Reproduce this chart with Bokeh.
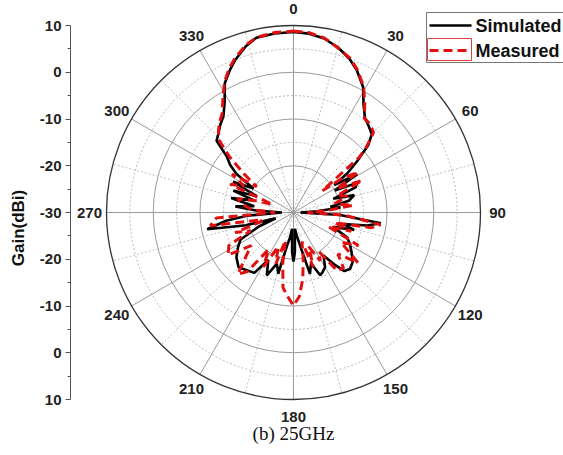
import numpy as np
from bokeh.plotting import figure
from bokeh.models import Range1d, FixedTicker
from bokeh.core.properties import value
from bokeh.embed import file_html
from bokeh.resources import INLINE

# ---------------- data ----------------
sim_theta = [0, 5, 10, 15, 20, 24, 29, 33, 37, 41, 45, 48, 51, 54, 56, 59, 62, 65, 68, 71,
             74, 78, 81, 84, 87, 90, 93, 97, 100, 103, 106, 110, 115, 120, 125, 130, 135, 139,
             142, 145, 150, 154, 157, 161, 165, 168, 172, 175, 178, 180, 182, 185, 188, 191,
             194, 198, 203, 208, 213, 220, 225, 232, 238, 243, 248, 252, 255, 259, 263, 266,
             270, 273, 276, 279, 283, 287, 290, 294, 297, 301, 304, 307, 310, 313, 316, 320,
             324, 328, 332, 336, 339, 344, 348, 354, 360]
sim_gain = [8.6, 8.4, 7.8, 6.6, 5.0, 3.3, 0.7, -2.5, -4.6, -5.5, -6.3, -8.5, -12.4, -15.8, -19.5,
            -14.1, -20.0, -15.0, -15.7, -21.0, -16.5, -17.9, -22.0, -19.9, -25.0, -28.5, -20.0,
            -11.2, -14.0, -19.0, -16.5, -21.0, -17.3, -16.0, -14.8, -13.5, -12.9, -13.4, -16.0,
            -18.8, -16.5, -15.8, -15.4, -18.5, -16.4, -22.0, -25.0, -26.5, -21.5, -19.5, -21.5,
            -26.5, -24.5, -22.8, -16.5, -18.5, -15.4, -18.5, -14.6, -14.0, -13.4, -14.5, -16.0,
            -17.3, -22.0, -26.0, -19.5, -11.2, -15.5, -20.0, -27.5, -22.0, -17.5, -21.5, -16.3,
            -21.0, -16.3, -21.4, -15.5, -20.0, -15.3, -13.0, -11.4, -7.5, -6.8, -5.6, -4.5,
            -2.2, 1.3, 3.4, 4.9, 7.0, 8.2, 8.5, 8.6]

meas_theta = [0, 5, 10, 15, 20, 24, 29, 33, 37, 41, 45, 48, 50, 53, 55, 58, 61, 65, 69, 73,
              78, 83, 87, 90, 93, 98, 101, 104, 108, 112, 117, 122, 128, 133, 138, 143, 147,
              151, 156, 160, 164, 168, 172, 176, 180, 184, 188, 192, 196, 199, 204, 209, 214,
              218, 222, 227, 232, 237, 243, 247, 251, 254, 257, 261, 266, 270, 274, 279, 284,
              288, 291, 294, 298, 302, 305, 308, 311, 314, 317, 320, 324, 328, 332, 336, 339,
              344, 348, 354, 360]
meas_gain = [8.8, 8.6, 7.9, 6.5, 5.2, 3.5, 0.9, -2.0, -4.8, -5.0, -5.8, -9.0, -11.7, -22.3,
             -17.2, -13.7, -19.5, -13.8, -20.0, -18.0, -21.0, -17.2, -23.0, -27.0, -19.0, -11.2,
             -13.0, -21.0, -17.0, -22.0, -14.4, -18.0, -12.5, -17.0, -14.0, -14.4, -20.0, -18.2,
             -22.0, -17.5, -23.5, -20.0, -15.7, -12.0, -10.1, -12.0, -13.8, -19.0, -23.8, -18.4,
             -22.0, -16.7, -20.5, -14.0, -12.2, -16.0, -18.5, -13.3, -14.5, -20.0, -16.8, -22.5,
             -23.2, -12.0, -13.5, -26.0, -21.0, -19.0, -17.7, -22.0, -25.2, -15.2, -18.0, -14.5,
             -20.4, -16.5, -11.9, -8.0, -6.5, -5.2, -4.0, -1.5, 1.5, 3.8, 5.2, 7.2, 8.3, 8.7, 8.8]

r_min, r_max = -30, 10
ring_gains = [-25, -20, -15, -10, -5, 0, 5, 10]
angle_ticks = [0, 30, 60, 90, 120, 150, 180, 210, 240, 270, 300, 330]
minor_angles = [15, 45, 75, 105, 135, 165, 195, 225, 255, 285, 315, 345]
gain_tick_values = [40, 30, 20, 10, 0, -10, -20, -30, -40]
gain_tick_labels = ["10", "0", "-10", "-20", "-30", "-20", "-10", "0", "10"]
series_names = ["Simulated", "Measured"]
caption = "(b) 25GHz"

# ---------------- layout ----------------
PX = 4.675            # screen px per dB
CXP, CYP = 293, 212   # screen position of the polar centre
W, H = 563, 455
LEFT = 70

def gx(px):
    return (px - CXP) / PX

def gy(py):
    return (CYP - py) / PX

def polar_xy(theta, gain):
    t = np.radians(np.asarray(theta, dtype=float))
    r = np.asarray(gain, dtype=float) - r_min
    return r * np.sin(t), r * np.cos(t)

p = figure(width=W, height=H, output_backend="svg", toolbar_location=None,
           x_range=Range1d(gx(LEFT), gx(W)), y_range=Range1d(gy(H), gy(0)),
           x_axis_location=None, y_axis_location="left",
           min_border_left=LEFT, min_border_right=0, min_border_top=0, min_border_bottom=0,
           background_fill_color="white", border_fill_color="white")
p.outline_line_color = None
p.grid.visible = False

R = r_max - r_min

# grid rings
solid_r = [g - r_min for g in ring_gains if g % 10 == 0 and g != r_max]
dot_r = [g - r_min for g in ring_gains if g % 10 != 0]
p.circle(x=[0] * len(dot_r), y=[0] * len(dot_r), radius=dot_r, fill_color=None,
         line_color="#b8b8b8", line_width=1, line_dash="2 2")
p.circle(x=[0] * len(solid_r), y=[0] * len(solid_r), radius=solid_r, fill_color=None,
         line_color="#9a9a9a", line_width=1)

# radial lines
mx, my = polar_xy(minor_angles, [r_max] * len(minor_angles))
p.segment(x0=0, y0=0, x1=mx, y1=my, line_color="#c0c0c0", line_width=1, line_dash="2 2")
ax_, ay_ = polar_xy(angle_ticks, [r_max] * len(angle_ticks))
p.segment(x0=0, y0=0, x1=ax_, y1=ay_, line_color="#9a9a9a", line_width=1)

# outer circle
p.circle(x=[0], y=[0], radius=[R], fill_color=None, line_color="#333333", line_width=1.3)

# data
sx, sy = polar_xy(sim_theta, sim_gain)
p.line(sx, sy, line_color="black", line_width=2.6)
mx2, my2 = polar_xy(meas_theta, meas_gain)
p.line(mx2, my2, line_color="#e01010", line_width=3, line_dash="9 5")

# angle labels
lx, ly = polar_xy(angle_ticks, [r_min + 204 / PX] * len(angle_ticks))
p.text(x=lx, y=ly, text=[str(a) for a in angle_ticks],
       text_font=value("Liberation Sans"), text_font_style="bold", text_font_size="15px",
       text_align="center", text_baseline="middle", text_color="#222222")

# left gain axis
yax = p.yaxis[0]
yax.ticker = FixedTicker(ticks=gain_tick_values,
                         minor_ticks=[v + 5 for v in gain_tick_values[1:]])
yax.major_label_overrides = {v: s for v, s in zip(gain_tick_values, gain_tick_labels)}
yax.bounds = (-R, R)
yax.axis_line_color = "#555555"
yax.major_tick_line_color = "#555555"
yax.minor_tick_line_color = "#555555"
yax.major_tick_out = 5
yax.major_tick_in = 0
yax.minor_tick_out = 3
yax.minor_tick_in = 0
yax.major_label_standoff = 4
yax.major_label_text_font = "Liberation Sans"
yax.major_label_text_font_style = "bold"
yax.major_label_text_font_size = "15px"
yax.major_label_text_color = "#222222"
yax.axis_label = "Gain(dBi)"
yax.axis_label_text_font = "Liberation Sans"
yax.axis_label_text_font_style = "bold"
yax.axis_label_text_font_size = "17px"
yax.axis_label_text_color = "#111111"
yax.axis_label_standoff = 9

# legend (drawn by hand to match the clipped box of the reference)
p.quad(left=[gx(426)], right=[gx(600)], top=[gy(12)], bottom=[gy(62)],
       fill_color="white", line_color="#777777", line_width=1)
p.line([gx(429), gx(471)], [gy(25), gy(25)], line_color="black", line_width=2.6)
p.line([gx(429), gx(471)], [gy(50), gy(50)], line_color="#e01010", line_width=3,
       line_dash="9 5")
p.quad(left=[gx(427)], right=[gx(471)], top=[gy(38)], bottom=[gy(60)],
       fill_color=None, line_color="#e04040", line_width=1)
p.text(x=[gx(475), gx(475)], y=[gy(25), gy(50)], text=series_names,
       text_font=value("Liberation Sans"), text_font_style="bold", text_font_size="18px",
       text_align="left", text_baseline="middle", text_color="#111111")

# caption
p.text(x=[gx(293)], y=[gy(433)], text=[caption], text_font=value("Liberation Serif"),
       text_font_size="19px", text_align="center", text_baseline="middle",
       text_color="#111111")

open("out.html", "w").write(file_html(p, INLINE))
